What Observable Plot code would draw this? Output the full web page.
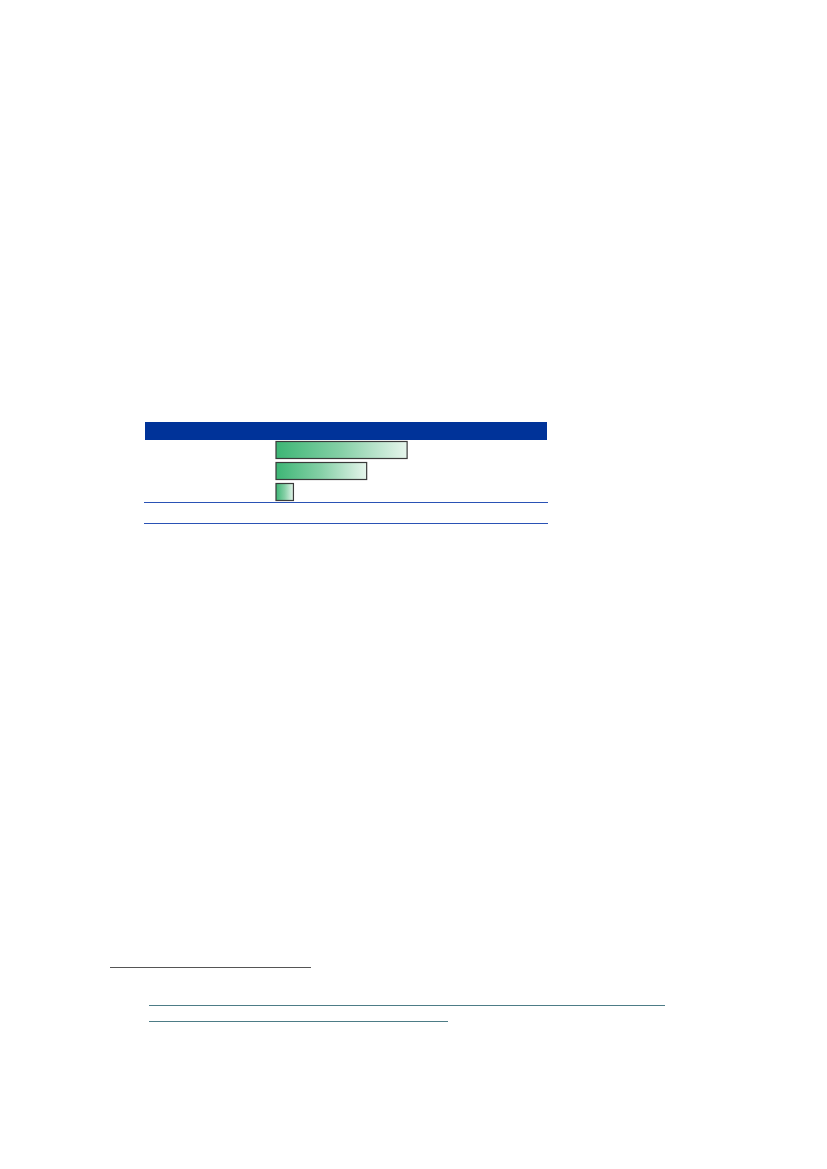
<!DOCTYPE html>
<html>
<head>
<meta charset="utf-8">
<script src="https://cdn.jsdelivr.net/npm/d3@7"></script>
<script src="https://cdn.jsdelivr.net/npm/@observablehq/plot@0.6"></script>
<style>
  html, body { margin: 0; padding: 0; background: #fff; width: 827px; height: 1169px; position: relative; overflow: hidden; font-family: "Liberation Sans", Arial, sans-serif; }
  #chart { position: absolute; left: 144px; top: 422px; width: 404px; }
  #header { height: 18px; background: #003399; margin-left: 1px; margin-right: 1px; }
  #plot svg { display: block; }
  #rule1 { height: 0; border-top: 1.5px solid #2a52b5; }
  #spacer { height: 20px; }
  #rule2 { height: 0; border-top: 1.5px solid #2a52b5; }
  .fn { position: absolute; height: 0; }
  #fn0 { left: 110px; top: 967px; width: 201px; border-top: 1.5px solid #555; }
  #fn1 { left: 149px; top: 1005px; width: 516px; border-top: 1.3px solid #4d7c86; }
  #fn2 { left: 149px; top: 1021px; width: 299px; border-top: 1.3px solid #4d7c86; }
</style>
</head>
<body>
<div id="chart">
  <div id="header"></div>
  <div id="plot"></div>
  <div id="rule1"></div>
  <div id="spacer"></div>
  <div id="rule2"></div>
</div>
<div class="fn" id="fn0"></div>
<div class="fn" id="fn1"></div>
<div class="fn" id="fn2"></div>
<script>
const categories = ["A", "B", "C"];
const values = [37.6, 26, 5];
const xMax = 78;

const data = categories.map((c, i) => ({category: c, value: values[i]}));

const gradient = () => {
  const ns = "http://www.w3.org/2000/svg";
  const defs = document.createElementNS(ns, "defs");
  const lg = document.createElementNS(ns, "linearGradient");
  lg.setAttribute("id", "barGrad");
  lg.setAttribute("x1", "0"); lg.setAttribute("x2", "1");
  lg.setAttribute("y1", "0"); lg.setAttribute("y2", "0");
  [["0%", "#3db675"], ["50%", "#86d0a7"], ["100%", "#e6f5ec"]].forEach(([o, c]) => {
    const s = document.createElementNS(ns, "stop");
    s.setAttribute("offset", o); s.setAttribute("stop-color", c);
    lg.appendChild(s);
  });
  defs.appendChild(lg);
  return defs;
};

const chart = Plot.plot({
  width: 404,
  height: 62,
  marginLeft: 132,
  marginRight: 0,
  marginTop: 0,
  marginBottom: 0,
  x: {domain: [0, xMax], axis: null},
  y: {domain: categories, axis: null, paddingInner: 0.14, paddingOuter: 0.04},
  marks: [
    gradient,
    Plot.barX(data, {x: "value", y: "category", fill: "url(#barGrad)", stroke: "#3a3a3a", strokeWidth: 1.2, insetTop: 0.5, insetBottom: 0.5})
  ]
});
document.getElementById("plot").appendChild(chart);
</script>
</body>
</html>
